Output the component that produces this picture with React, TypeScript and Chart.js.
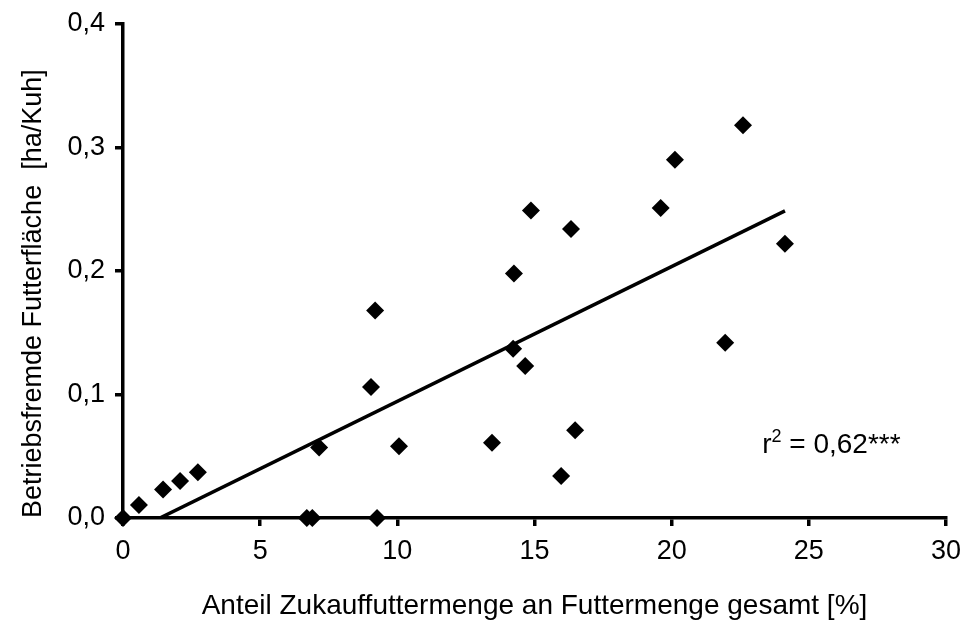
import React, { useEffect, useRef } from "react";
import { Chart, registerables } from "chart.js";

Chart.register(...registerables);

const xValues = [0, 0.58, 1.46, 2.08, 2.73, 6.7, 6.9, 9.26, 7.15, 9.04, 9.19, 10.06, 13.45, 14.22, 14.25, 14.66, 14.87, 15.97, 16.33, 16.48, 19.6, 20.12, 21.95, 22.6, 24.13];
const yValues = [0, 0.0105, 0.023, 0.03, 0.037, 0, 0, 0, 0.057, 0.106, 0.168, 0.058, 0.061, 0.137, 0.198, 0.123, 0.249, 0.034, 0.234, 0.071, 0.251, 0.29, 0.142, 0.318, 0.222];
const trendX = [0, 24.13];
const trendY = [-0.0147, 0.2487];
const xTicks = [0, 5, 10, 15, 20, 25, 30];
const yTicks = [0, 0.1, 0.2, 0.3, 0.4];
const xTitle = "Anteil Zukauffuttermenge an Futtermenge gesamt [%]";
const yTitle = "Betriebsfremde Futterfläche  [ha/Kuh]";
const rText = "r";
const rSup = "2";
const rRest = " = 0,62";
const rStars = "***";

const FONT = "'Liberation Sans', Arial, sans-serif";
const FS = 27;

export default function App() {
  const ref = useRef<HTMLCanvasElement>(null);
  useEffect(() => {
    if (!ref.current) return;
    const annot = {
      id: "annot",
      afterDatasetsDraw(chart: any) {
        const ctx = chart.ctx;
        const xs = chart.scales.x;
        const ys = chart.scales.y;
        let x = xs.getPixelForValue(23.3);
        const y = ys.getPixelForValue(0.053);
        ctx.save();
        ctx.fillStyle = "#000";
        ctx.textBaseline = "alphabetic";
        ctx.textAlign = "left";
        ctx.font = `28px ${FONT}`;
        ctx.fillText(rText, x, y);
        x += ctx.measureText(rText).width;
        ctx.font = `18px ${FONT}`;
        ctx.fillText(rSup, x, y - 11);
        x += ctx.measureText(rSup).width;
        ctx.font = `28px ${FONT}`;
        ctx.fillText(rRest, x, y);
        x += ctx.measureText(rRest).width;
        ctx.fillText(rStars, x, y);
        ctx.restore();
      },
    };
    const chart = new Chart(ref.current, {
      type: "scatter",
      data: {
        datasets: [
          {
            type: "line",
            data: trendX.map((v, i) => ({ x: v, y: trendY[i] })),
            borderColor: "#000",
            borderWidth: 3.5,
            pointRadius: 0,
            fill: false,
          } as any,
          {
            data: xValues.map((v, i) => ({ x: v, y: yValues[i] })),
            pointStyle: "rectRot",
            pointRadius: 9,
            backgroundColor: "#000",
            borderColor: "#000",
            borderWidth: 0,
            clip: false,
          } as any,
        ],
      },
      options: {
        responsive: false,
        animation: false,
        events: [],
        layout: { padding: { top: 24, right: 18, left: 0, bottom: 0 } },
        plugins: { legend: { display: false }, tooltip: { enabled: false } },
        scales: {
          x: {
            type: "linear",
            min: 0,
            max: 30,
            afterFit(s: any) { s.height = 105; s.paddingRight = 0; s.paddingLeft = 0; },
            afterBuildTicks(s: any) { s.ticks = xTicks.map((v) => ({ value: v })); },
            border: { display: true, color: "#000", width: 3.5 },
            grid: { display: true, drawOnChartArea: false, drawTicks: true, tickLength: 8, color: "#000", lineWidth: 3.5 },
            ticks: { color: "#000", font: { family: FONT, size: FS }, padding: 9, maxRotation: 0, callback: (v: any) => String(v) },
            title: { display: true, text: xTitle, color: "#000", font: { family: FONT, size: 28 }, padding: 0 },
          },
          y: {
            type: "linear",
            min: 0,
            max: 0.4,
            afterFit(s: any) { s.width = 123; s.paddingTop = 0; s.paddingBottom = 0; },
            afterBuildTicks(s: any) { s.ticks = yTicks.map((v) => ({ value: v })); },
            border: { display: true, color: "#000", width: 3.5 },
            grid: { display: true, drawOnChartArea: false, drawTicks: true, tickLength: 8, color: "#000", lineWidth: 3.5 },
            ticks: { color: "#000", font: { family: FONT, size: FS }, padding: 10, callback: (v: any) => Number(v).toFixed(1).replace(".", ",") },
            title: { display: true, text: yTitle, align: "start", color: "#000", font: { family: FONT, size: FS }, padding: { top: 17, bottom: 0 } },
          },
        },
      },
      plugins: [annot],
    });
    return () => chart.destroy();
  }, []);
  return (
    <div style={{ position: "fixed", left: 0, top: 0, width: 964, height: 623, background: "#fff" }}>
      <canvas ref={ref} width={964} height={623} style={{ display: "block" }} />
    </div>
  );
}
